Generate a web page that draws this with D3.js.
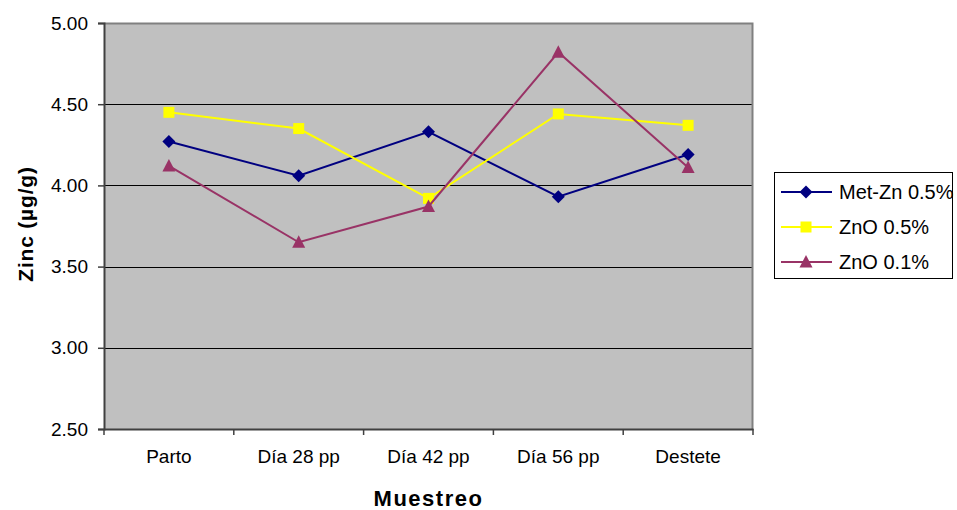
<!DOCTYPE html>
<html>
<head>
<meta charset="utf-8">
<script src="https://cdn.jsdelivr.net/npm/d3@7"></script>
<style>
  html, body { margin: 0; padding: 0; background: #fff; }
  svg { display: block; font-family: "Liberation Sans", Arial, sans-serif; }
</style>
</head>
<body>
<svg id="chart" width="957" height="510"></svg>
<script>
// Zinc concentration per sampling time
const categories = ["Parto", "Día 28 pp", "Día 42 pp", "Día 56 pp", "Destete"];
const metZn05 = [4.27, 4.06, 4.33, 3.93, 4.19];
const znO05 = [4.45, 4.35, 3.92, 4.44, 4.37];
const znO01 = [4.12, 3.65, 3.87, 4.82, 4.11];
const yTicks = [2.5, 3.0, 3.5, 4.0, 4.5, 5.0];

const series = [
  { name: "Met-Zn 0.5%", values: metZn05, color: "#000080", shape: "diamond" },
  { name: "ZnO 0.5%", values: znO05, color: "#FFFF00", shape: "square" },
  { name: "ZnO 0.1%", values: znO01, color: "#993366", shape: "triangle" }
];

const FONT = "'Liberation Sans', Arial, sans-serif";
const svg = d3.select("#chart");
const plot = { left: 104, right: 753, top: 23, bottom: 429 };

const x = d3.scaleBand().domain(categories).range([plot.left, plot.right]);
const y = d3.scaleLinear().domain([2.5, 5.0]).range([plot.bottom, plot.top]);

// marker outlines, centred on the data point
const markerPath = {
  diamond: "M0,-6.5L6.5,0L0,6.5L-6.5,0Z",
  square: "M-5.5,-5.5H5.5V5.5H-5.5Z",
  triangle: "M0,-7L6.5,5.5H-6.5Z"
};

// plot background
svg.append("rect")
  .attr("x", plot.left).attr("y", plot.top)
  .attr("width", plot.right - plot.left).attr("height", plot.bottom - plot.top)
  .attr("fill", "#C0C0C0");

// horizontal gridlines
svg.append("g").selectAll("line")
  .data(yTicks.filter(t => t > 2.5 && t < 5.0))
  .join("line")
  .attr("x1", plot.left).attr("x2", plot.right)
  .attr("y1", d => Math.round(y(d)) + 0.5).attr("y2", d => Math.round(y(d)) + 0.5)
  .attr("stroke", "#000").attr("stroke-width", 1);

// top and right frame
svg.append("path")
  .attr("d", `M${plot.left},${plot.top + 0.5}H${plot.right - 0.5}V${plot.bottom}`)
  .attr("fill", "none").attr("stroke", "#808080").attr("stroke-width", 2);

// y axis
const yAxis = svg.append("g")
  .attr("transform", `translate(${plot.left},0)`)
  .call(d3.axisLeft(y).tickValues(yTicks).tickFormat(d3.format(".2f")).tickSize(6).tickPadding(10));
yAxis.attr("font-family", FONT);
yAxis.select(".domain").attr("stroke", "#404040").attr("stroke-width", 2);
yAxis.selectAll(".tick line").attr("stroke", "#404040").attr("stroke-width", 1.5);
yAxis.selectAll("text").attr("font-size", 19).attr("fill", "#000");

// x axis
const xAxis = svg.append("g")
  .attr("transform", `translate(0,${plot.bottom})`)
  .call(d3.axisBottom(x).tickSize(0).tickPadding(21));
xAxis.attr("font-family", FONT);
xAxis.select(".domain").attr("stroke", "#404040").attr("stroke-width", 2);
xAxis.selectAll("text").attr("font-size", 19).attr("fill", "#000");
// category boundary ticks
svg.append("g").selectAll("line")
  .data(d3.range(categories.length + 1))
  .join("line")
  .attr("x1", i => plot.left + i * x.step()).attr("x2", i => plot.left + i * x.step())
  .attr("y1", plot.bottom).attr("y2", plot.bottom + 6)
  .attr("stroke", "#404040").attr("stroke-width", 1.5);

// axis titles
svg.append("text")
  .attr("transform", `translate(33,224) rotate(-90)`)
  .attr("text-anchor", "middle").attr("font-size", 21).attr("font-weight", "bold")
  .attr("letter-spacing", 0.8)
  .text("Zinc (µg/g)");
svg.append("text")
  .attr("x", (plot.left + plot.right) / 2).attr("y", 506)
  .attr("text-anchor", "middle").attr("font-size", 22).attr("font-weight", "bold")
  .attr("letter-spacing", 1.5)
  .text("Muestreo");

const cx = c => x(c) + x.bandwidth() / 2;

const line = d3.line().x(d => cx(d.c)).y(d => y(d.v));

series.forEach(s => {
  const pts = categories.map((c, i) => ({ c, v: s.values[i] }));
  svg.append("path")
    .datum(pts)
    .attr("d", line)
    .attr("fill", "none").attr("stroke", s.color).attr("stroke-width", 2);
  svg.append("g").selectAll("path")
    .data(pts)
    .join("path")
    .attr("transform", d => `translate(${cx(d.c)},${y(d.v)})`)
    .attr("d", markerPath[s.shape])
    .attr("fill", s.color);
});

// legend
const legend = svg.append("g");
legend.append("rect")
  .attr("x", 774.5).attr("y", 172.5).attr("width", 178).attr("height", 106)
  .attr("fill", "#fff").attr("stroke", "#000").attr("stroke-width", 1);
series.forEach((s, i) => {
  const ly = 192 + i * 35;
  legend.append("line")
    .attr("x1", 781).attr("x2", 832).attr("y1", ly).attr("y2", ly)
    .attr("stroke", s.color).attr("stroke-width", 2);
  legend.append("path")
    .attr("transform", `translate(806,${ly})`)
    .attr("d", markerPath[s.shape])
    .attr("fill", s.color);
  legend.append("text")
    .attr("x", 839).attr("y", ly + 7)
    .attr("font-size", 20).attr("fill", "#000")
    .text(s.name);
});
</script>
</body>
</html>
